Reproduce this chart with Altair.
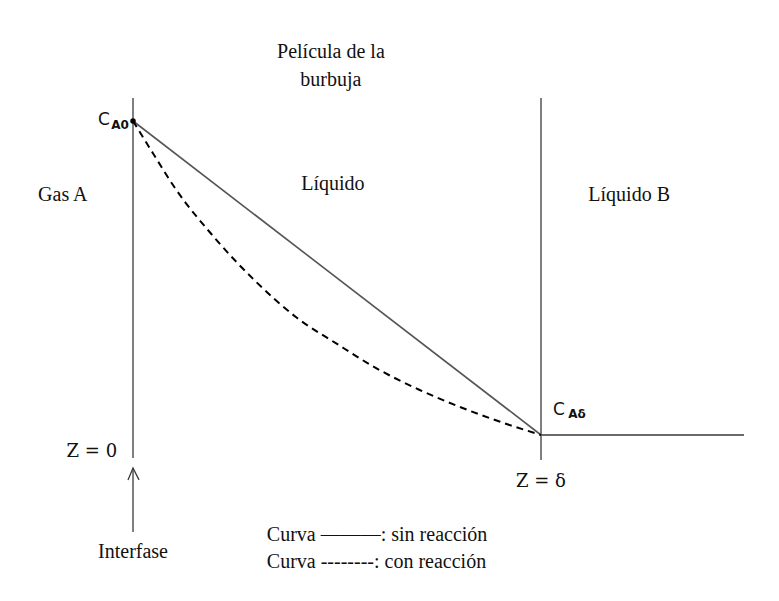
import altair as alt
import pandas as pd

# --- data (normalised: z in units of delta, concentration in units of C_A0) ---
lin_z = [0.0, 1.0]
lin_c = [1.0, 0.0]

dash_z = [0.0, 0.05, 0.1, 0.2, 0.3, 0.4, 0.5, 0.6, 0.7, 0.8, 0.9, 1.0]
dash_c = [1.0, 0.895, 0.792, 0.628, 0.49, 0.375, 0.29, 0.21, 0.145, 0.09, 0.042, 0.0]

# structural lines of the diagram
vert_z = [0.0, 1.0]
vert_top = [1.073, 1.073]
vert_bot = [-0.073, -0.080]
bulk_z = [1.0, 1.4975]
bulk_c = [0.0, 0.0]

arrow_shaft_z = [0.0]
arrow_shaft_c = [-0.105, -0.309]
arrow_head_z = [-0.0123, 0.0, 0.0147]
arrow_head_c = [-0.143, -0.105, -0.143]

# annotation texts
serif_texts = ["Película de la", "burbuja", "Gas A", "Líquido", "Líquido B", "Interfase"]
serif_z = [0.485, 0.485, -0.172, 0.490, 1.216, 0.0]
serif_c = [1.220, 1.131, 0.764, 0.799, 0.764, -0.373]

legend_texts = ["Curva ———: sin reacción", "Curva --------: con reacción"]
legend_z = [0.328, 0.328]
legend_c = [-0.318, -0.404]

c_main = ["C", "C"]
c_main_z = [-0.071, 1.044]
c_main_c = [1.003, 0.080]
c_sub = ["A0", "Aδ"]
c_sub_z = [-0.032, 1.088]
c_sub_c = [0.987, 0.067]

zlab = ["Z = 0", "Z = δ"]
zlab_z = [-0.039, 1.0]
zlab_c = [-0.054, -0.150]
zlab_align = ["right", "center"]

# --- scales ---
xs = alt.Scale(domain=[-0.3064, 1.5637], nice=False, zero=False)
ys = alt.Scale(domain=[-0.5032, 1.3599], nice=False, zero=False)
X = lambda f: alt.X(f, type="quantitative", scale=xs, axis=None)
Y = lambda f: alt.Y(f, type="quantitative", scale=ys, axis=None)

verts = alt.Chart(pd.DataFrame({"z": vert_z, "top": vert_top, "bot": vert_bot})).mark_rule(
    color="#3a3a3a", strokeWidth=1.3
).encode(x=X("z"), y=Y("top"), y2="bot")

bulk = alt.Chart(pd.DataFrame({"z": bulk_z, "c": bulk_c})).mark_line(
    color="#6a6a6a", strokeWidth=2
).encode(x=X("z"), y=Y("c"))

lin = alt.Chart(pd.DataFrame({"z": lin_z, "c": lin_c})).mark_line(
    color="#555555", strokeWidth=1.6
).encode(x=X("z"), y=Y("c"))

dash = alt.Chart(pd.DataFrame({"z": dash_z, "c": dash_c, "o": list(range(len(dash_z)))})).mark_line(
    color="black", strokeWidth=2, strokeDash=[7, 5], interpolate="monotone"
).encode(x=X("z"), y=Y("c"), order="o:Q")

dot = alt.Chart(pd.DataFrame({"z": [0.0], "c": [1.0]})).mark_circle(
    color="black", size=30, opacity=1
).encode(x=X("z"), y=Y("c"))

shaft = alt.Chart(pd.DataFrame({"z": arrow_shaft_z, "c1": [arrow_shaft_c[0]], "c2": [arrow_shaft_c[1]]})).mark_rule(
    color="#3a3a3a", strokeWidth=1.3
).encode(x=X("z"), y=Y("c1"), y2="c2")

head = alt.Chart(pd.DataFrame({"z": arrow_head_z, "c": arrow_head_c, "o": [0, 1, 2]})).mark_line(
    color="#3a3a3a", strokeWidth=1.3
).encode(x=X("z"), y=Y("c"), order="o:Q")

serif = alt.Chart(pd.DataFrame({"t": serif_texts, "z": serif_z, "c": serif_c})).mark_text(
    font="Liberation Serif", fontSize=20, color="#111111", baseline="middle", align="center"
).encode(x=X("z"), y=Y("c"), text="t:N")

legend = alt.Chart(pd.DataFrame({"t": legend_texts, "z": legend_z, "c": legend_c})).mark_text(
    font="Liberation Serif", fontSize=20, color="#111111", baseline="middle", align="left"
).encode(x=X("z"), y=Y("c"), text="t:N")

cmain = alt.Chart(pd.DataFrame({"t": c_main, "z": c_main_z, "c": c_main_c})).mark_text(
    font="DejaVu Sans", fontSize=17, color="#111111", baseline="middle", align="center"
).encode(x=X("z"), y=Y("c"), text="t:N")

csub = alt.Chart(pd.DataFrame({"t": c_sub, "z": c_sub_z, "c": c_sub_c})).mark_text(
    font="DejaVu Sans", fontSize=12, fontWeight="bold", color="#111111", baseline="middle", align="center"
).encode(x=X("z"), y=Y("c"), text="t:N")

zl = alt.Chart(pd.DataFrame({"t": zlab, "z": zlab_z, "c": zlab_c, "a": zlab_align})).transform_filter(
    alt.datum.a == "right"
).mark_text(
    font="DejaVu Serif", fontSize=18, color="#111111", baseline="middle", align="right"
).encode(x=X("z"), y=Y("c"), text="t:N")

zl2 = alt.Chart(pd.DataFrame({"t": zlab, "z": zlab_z, "c": zlab_c, "a": zlab_align})).transform_filter(
    alt.datum.a == "center"
).mark_text(
    font="DejaVu Serif", fontSize=18, color="#111111", baseline="middle", align="center"
).encode(x=X("z"), y=Y("c"), text="t:N")

chart = alt.layer(
    verts, bulk, lin, dash, dot, shaft, head, serif, legend, cmain, csub, zl, zl2
).properties(
    width=763, height=585, padding=0, autosize=alt.AutoSizeParams(type="none")
).configure_view(stroke=None)

chart.save("out.html", embed_options={"renderer": "svg", "actions": False})
